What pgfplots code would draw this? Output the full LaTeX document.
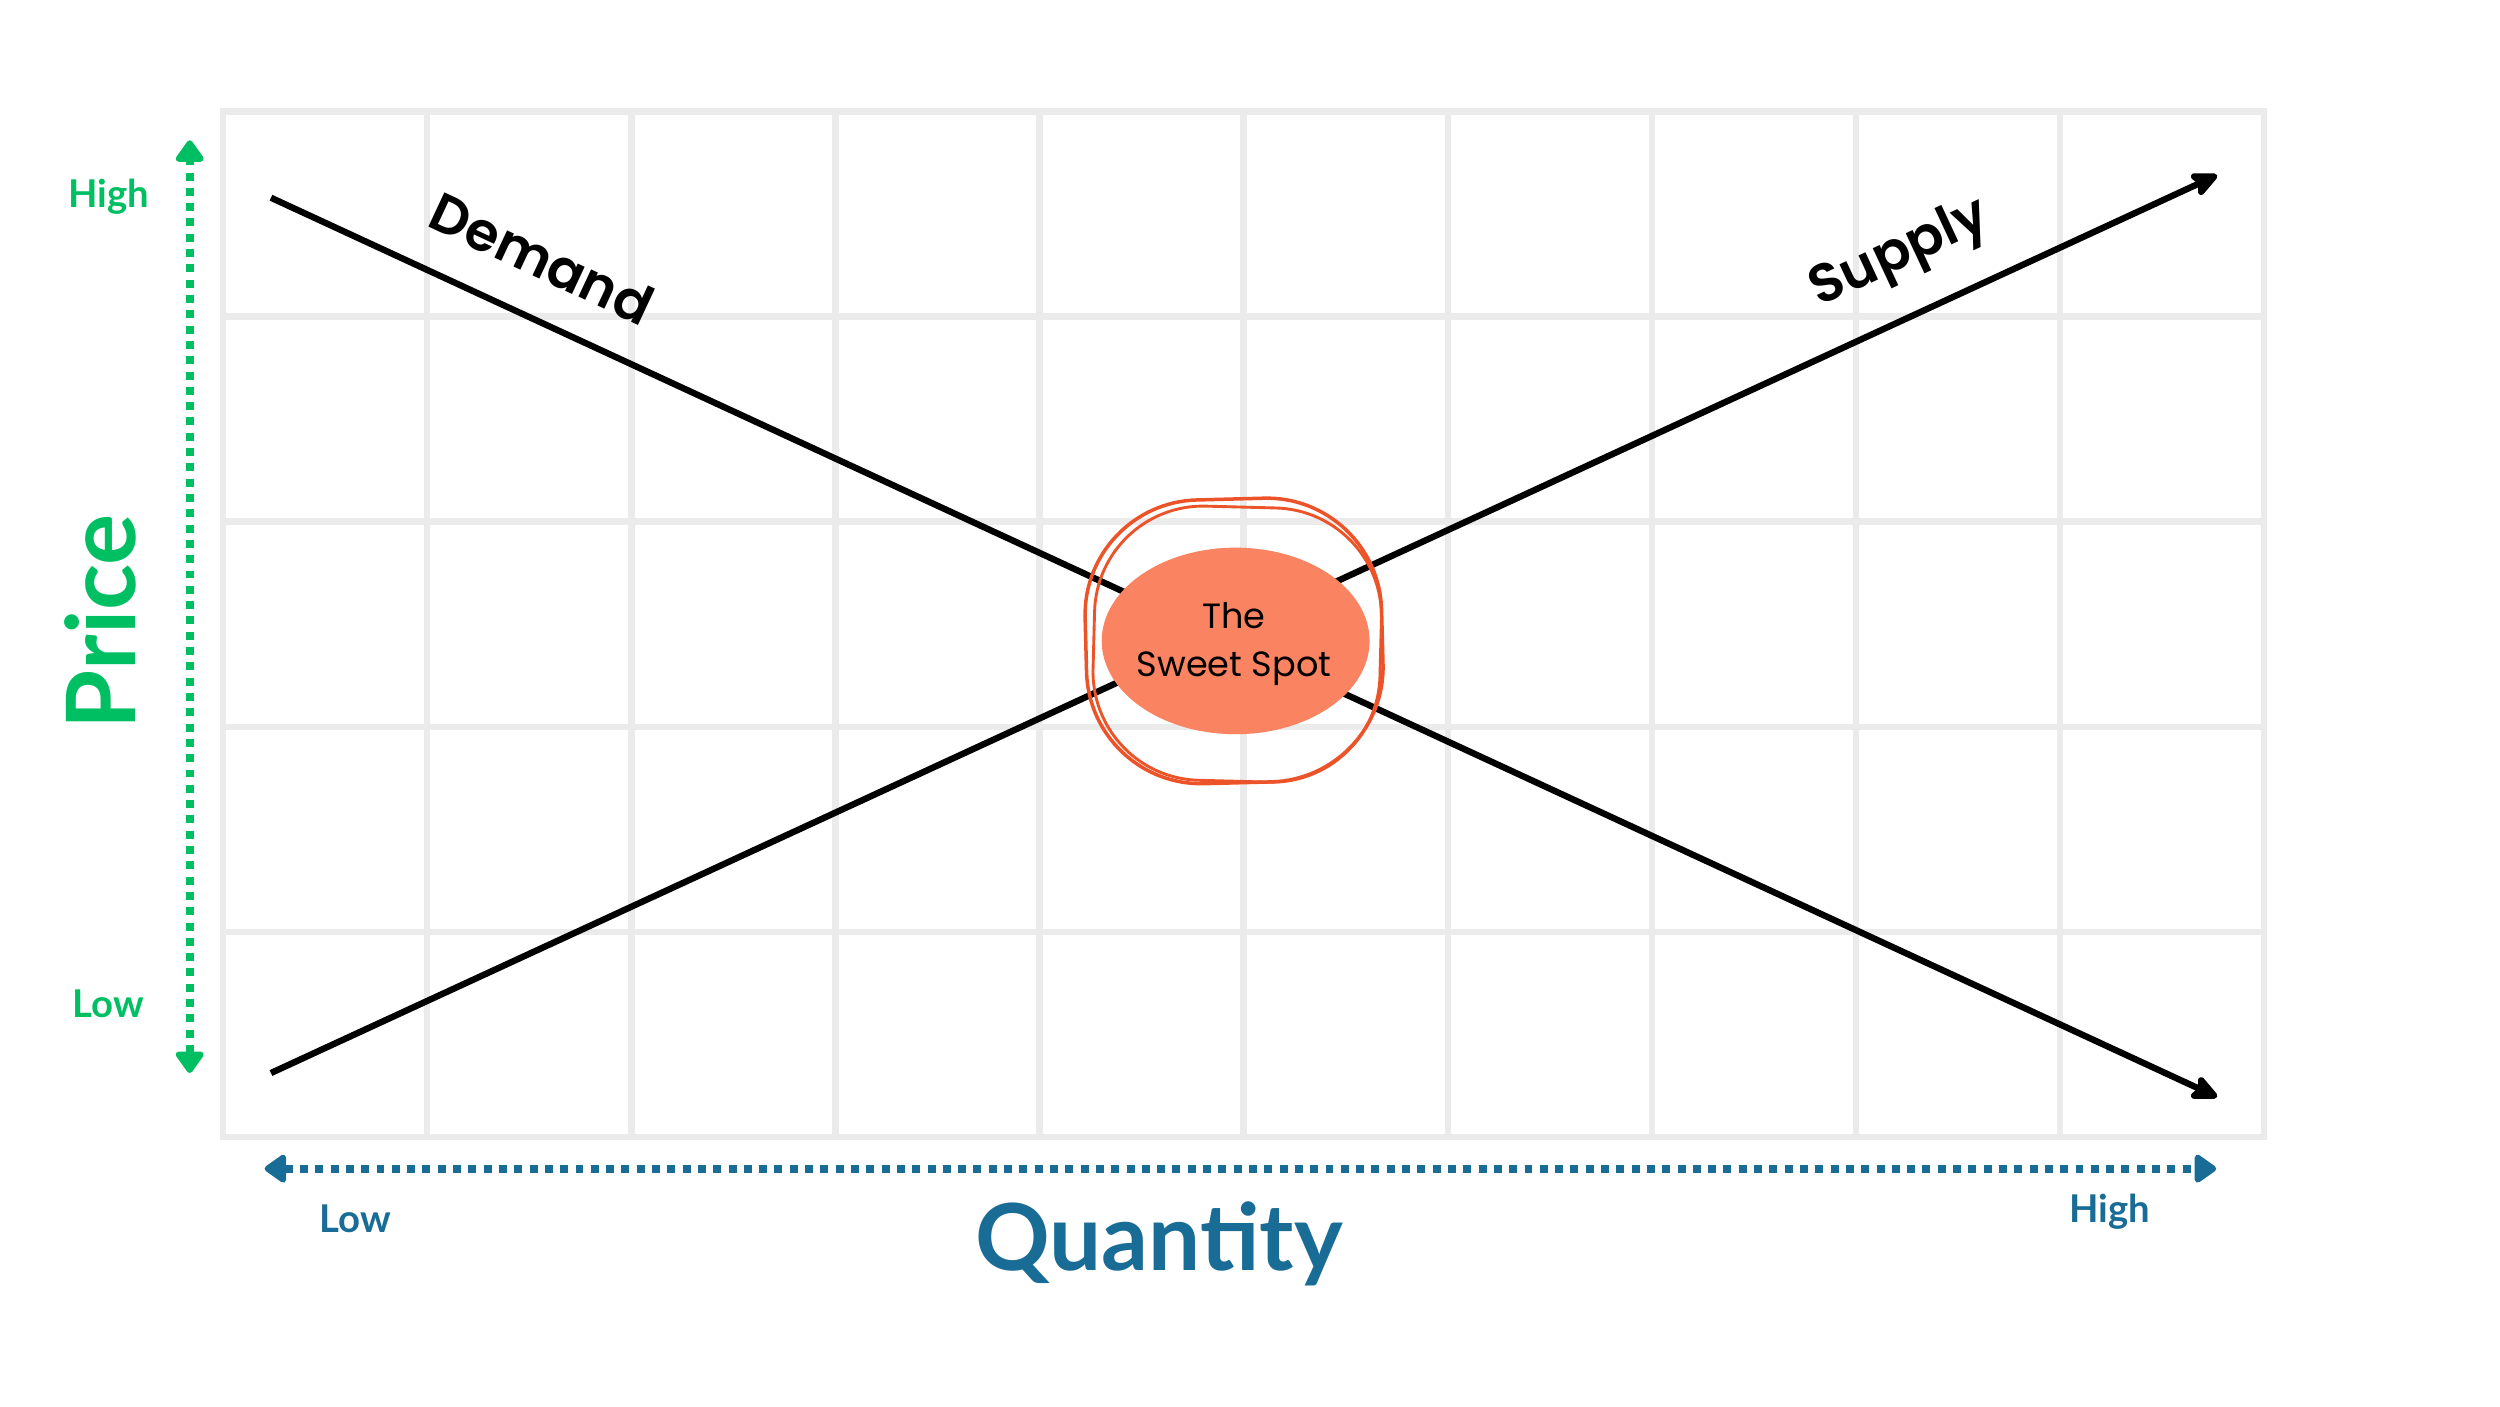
\documentclass[border=0pt]{standalone}
\usepackage{pgfplots}
\pgfplotsset{compat=1.18}
\usetikzlibrary{arrows.meta}
\usepackage{fontspec}
\setmainfont{Lato}
\newfontfamily\lato{Lato}
\newfontfamily\pop{Poppins}
\newfontfamily\popb{Poppins SemiBold}
\definecolor{gridc}{HTML}{EBEBEB}
\definecolor{greenc}{HTML}{00BF63}
\definecolor{bluec}{HTML}{186C95}
\definecolor{salmon}{HTML}{FA8361}
\definecolor{ringc}{HTML}{EC5328}
\begin{document}
\begin{tikzpicture}
\begin{axis}[
  scale only axis, width=640pt, height=321.5pt,
  xmin=0, xmax=10, ymin=0, ymax=5,
  xtick={0,1,...,10}, ytick={0,1,...,5},
  xticklabels={}, yticklabels={},
  major tick length=0pt,
  grid=major,
  grid style={line width=2pt, color=gridc},
  axis line style={line width=2pt, color=gridc},
  clip=false,
]
\coordinate (O) at (axis cs:0,0);
% Demand
\addplot[black, line width=2pt, -{Stealth[length=10pt,width=9pt,inset=2pt,round]}]
  coordinates {(0.234,4.58) (9.77,0.194)};
% Supply
\addplot[black, line width=2pt, -{Stealth[length=10pt,width=9pt,inset=2pt,round]}]
  coordinates {(0.234,0.311) (9.77,4.69)};
\end{axis}
\begin{scope}[shift={(O)}, x=1pt, y=1pt]
  % Sweet spot
  \fill[salmon] (317.5,155.5) ellipse [x radius=42pt, y radius=29.25pt];
  \node[draw=ringc, line width=1.1pt, rounded corners=36pt, minimum width=93pt, minimum height=89pt, rotate=1.5, inner sep=0pt] at (317,155.5) {};
  \node[draw=ringc, line width=0.9pt, rounded corners=34pt, minimum width=90pt, minimum height=86pt, rotate=-1.5, inner sep=0pt] at (318,154.5) {};
  \node[align=center, font={\pop\fontsize{11}{15}\selectfont}, text=black] at (317,154.5) {The\\Sweet Spot};
  % Curve labels
  \node[font={\popb\fontsize{17}{20}\selectfont}, rotate=-25] at (100,275.5) {Demand};
  \node[font={\popb\fontsize{17}{20}\selectfont}, rotate=25] at (526,276.5) {Supply};
  % Green price arrow
  \draw[greenc, line width=2.4pt, dash pattern=on 2.5pt off 2.3pt,
        {Triangle[width=10pt,length=7.5pt,round]}-{Triangle[width=10pt,length=7.5pt,round]}]
        (-10.5,20) -- (-10.5,312.5);
  % Blue quantity arrow
  \draw[bluec, line width=2.4pt, dash pattern=on 2.5pt off 2.3pt,
        {Triangle[width=10pt,length=7.5pt,round]}-{Triangle[width=10pt,length=7.5pt,round]}]
        (13,-10) -- (625,-10);
  % Labels
  \node[anchor=base, text=greenc, font={\lato\bfseries\fontsize{12}{14}\selectfont}] at (-36,291.5) {High};
  \node[anchor=base, text=greenc, font={\lato\bfseries\fontsize{12}{14}\selectfont}] at (-36,37.5) {Low};
  \node[anchor=base, text=bluec, font={\lato\bfseries\fontsize{12}{14}\selectfont}] at (41.5,-30) {Low};
  \node[anchor=base, text=bluec, font={\lato\bfseries\fontsize{12}{14}\selectfont}] at (591.5,-27) {High};
  \node[anchor=base, text=bluec, font={\lato\bfseries\fontsize{29}{34}\selectfont}] at (293.5,-42) {Quantity};
  \node[anchor=base, rotate=90, text=greenc, font={\lato\bfseries\fontsize{30}{36}\selectfont}] at (-27.5,161.5) {Price};
\end{scope}
\pgfresetboundingbox
\path[use as bounding box] ([shift={(-70pt,-84.5pt)}]O) rectangle ([shift={(714pt,356.5pt)}]O);
\end{tikzpicture}
\end{document}
